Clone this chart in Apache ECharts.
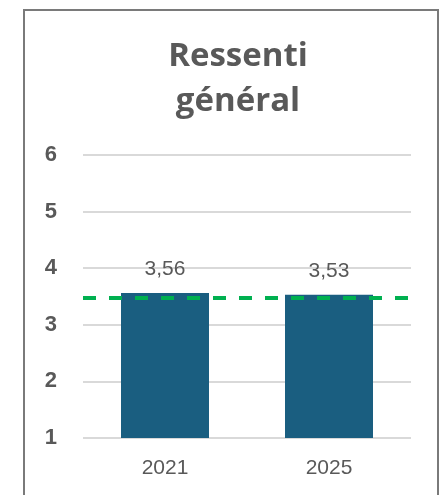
<!DOCTYPE html>
<html>
<head>
<meta charset="utf-8">
<script src="https://cdn.jsdelivr.net/npm/echarts@6/dist/echarts.min.js"></script>
<style>
  html, body { margin: 0; padding: 0; background: #fff; }
  #chart { width: 444px; height: 495px; }
</style>
</head>
<body>
<div id="chart"></div>
<script>
const years = ['2021', '2025']
const scores = [3.56, 3.53]
const reference = 3.47
const yTicks = [1, 2, 3, 4, 5, 6]

const grey = '#595959'
const chart = echarts.init(document.getElementById('chart'))

chart.setOption({
  animation: false,
  graphic: [{
    type: 'rect',
    shape: { x: 24, y: 10, width: 414, height: 500 },
    style: { fill: 'none', stroke: '#7a7a7a', lineWidth: 2 }
  }],
  title: {
    text: 'Ressenti\ngénéral',
    left: 233,
    textAlign: 'center',
    top: 29,
    textStyle: {
      fontFamily: 'Open Sans',
      fontWeight: 'bold',
      fontSize: 33,
      lineHeight: 45,
      color: grey
    }
  },
  grid: { left: 83, right: 33, top: 155, bottom: 57 },
  xAxis: {
    type: 'category',
    data: years,
    axisLine: { show: false },
    axisTick: { show: false },
    axisLabel: {
      fontFamily: 'Liberation Sans',
      fontSize: 21,
      color: grey,
      margin: 20
    }
  },
  yAxis: {
    type: 'value',
    min: yTicks[0],
    max: yTicks[yTicks.length - 1],
    interval: 1,
    axisLabel: {
      fontFamily: 'Liberation Sans',
      fontWeight: 'bold',
      fontSize: 22,
      color: grey,
      margin: 26
    },
    splitLine: { lineStyle: { color: '#d9d9d9', width: 2 } }
  },
  series: [{
    type: 'bar',
    data: scores,
    barWidth: 88,
    itemStyle: { color: '#1a5e80' },
    label: {
      show: true,
      position: 'top',
      distance: 13,
      fontFamily: 'Liberation Sans',
      fontSize: 21,
      color: grey,
      formatter: p => p.value.toFixed(2).replace('.', ',')
    },
    markLine: {
      silent: true,
      symbol: 'none',
      label: { show: false },
      lineStyle: { color: '#00b050', type: [13, 13], width: 4 },
      data: [{ yAxis: reference }]
    }
  }]
})
</script>
</body>
</html>
